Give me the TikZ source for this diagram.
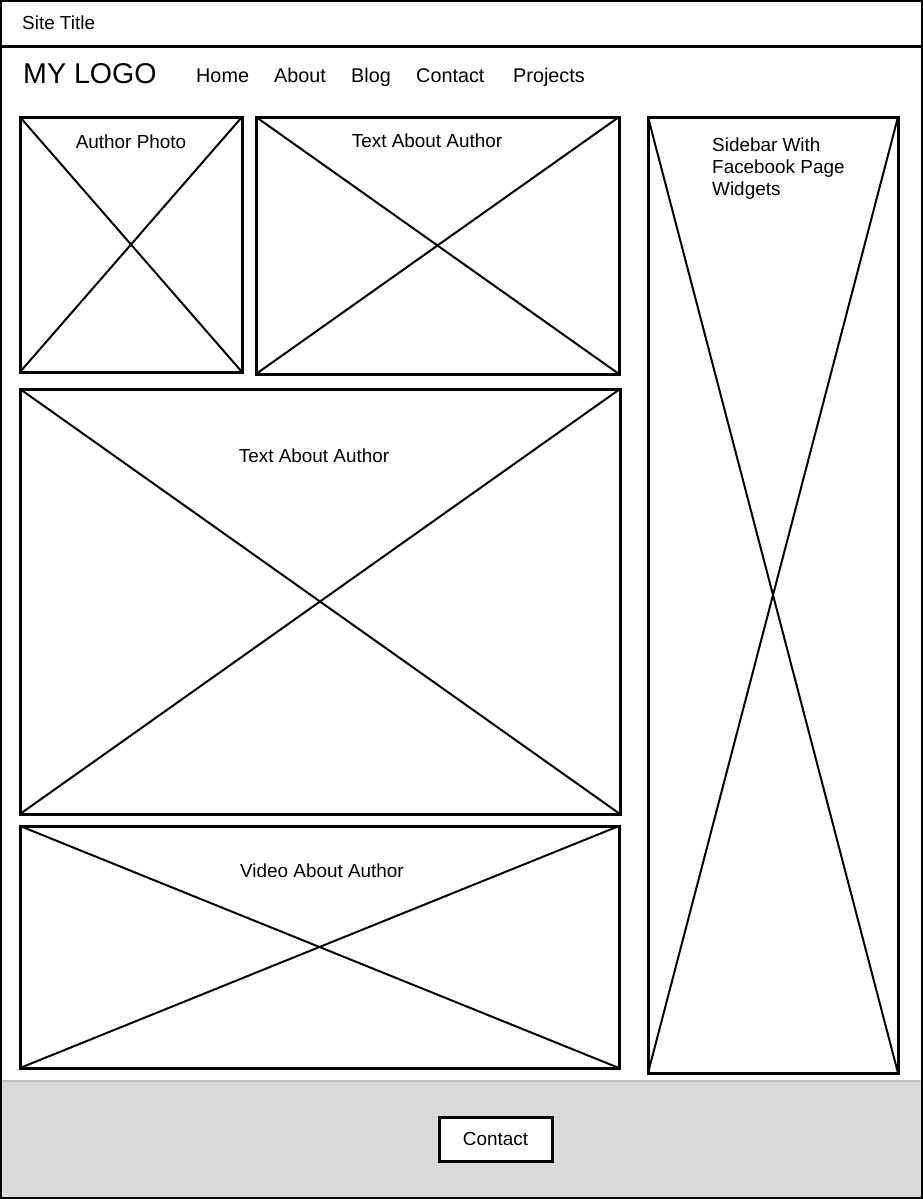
\documentclass[tikz,border=0pt]{standalone}
\usepackage{fontspec}
\setmainfont{Liberation Sans}
\definecolor{footergray}{HTML}{DADADA}
\definecolor{footerline}{HTML}{BDBDBD}
\begin{document}
\begin{tikzpicture}[x=1pt,y=-1pt,
  frame/.style={draw=black,line width=3pt,inner sep=0pt,outer sep=0pt,anchor=north west,fill=none},
  cross/.style={draw=black,line width=2pt},
  label/.style={font=\fontsize{18.9}{22}\selectfont,inner sep=0pt},
  navitem/.style={font=\fontsize{19.8}{22}\selectfont,inner sep=0pt,anchor=base west},
]
\useasboundingbox (0,0) rectangle (923,1199);

% footer band
\fill[footergray] (1,1081) rectangle (922,1198);
\draw[footerline,line width=1.5pt] (1,1081) -- (922,1081);

% page outline and header rule
\draw[line width=2pt] (1,1) rectangle (922,1198);
\draw[line width=3pt] (1,47) -- (922,47);
\node[label,anchor=base west] (title) at (22,29.5) {Site Title};

% navigation bar
\node[inner sep=0pt,anchor=base west,font=\fontsize{28.6}{30}\selectfont] (logo) at (23,83.5) {MY LOGO};
\node[navitem] (home) at (196,82.5) {Home};
\node[navitem] (about) at (274,82.5) {About};
\node[navitem] (blog) at (351,82.5) {Blog};
\node[navitem] (contactnav) at (416,82.5) {Contact};
\node[navitem] (projects) at (513,82.5) {Projects};

% placeholder blocks
\node[frame,minimum width=222pt,minimum height=255pt] (photo) at (20,117) {};
\node[frame,minimum width=363pt,minimum height=257pt] (intro) at (256,117) {};
\node[frame,minimum width=600pt,minimum height=425pt] (bio) at (20,389) {};
\node[frame,minimum width=599pt,minimum height=242pt] (video) at (20,826) {};
\node[frame,minimum width=250pt,minimum height=956pt] (sidebar) at (648,117) {};

\foreach \b in {photo,intro,bio,video,sidebar}{
  \draw[cross] (\b.north west) -- (\b.south east);
  \draw[cross] (\b.south west) -- (\b.north east);
}

% block captions
\node[label] (photolbl) at (131,142) {Author Photo};
\node[label] (introlbl) at (427,141) {Text About Author};
\node[label] (biolbl) at (314,456) {Text About Author};
\node[label] (videolbl) at (322,871) {Video About Author};
\node[label,anchor=north west,align=left] (sidelbl) at (712,138) {Sidebar With\\Facebook Page\\Widgets};

% footer button
\node[draw=black,line width=3pt,fill=white,inner sep=0pt,minimum width=113pt,minimum height=44pt,font=\fontsize{18.9}{22}\selectfont] (button) at (495.5,1139) {Contact};
\end{tikzpicture}
\end{document}
